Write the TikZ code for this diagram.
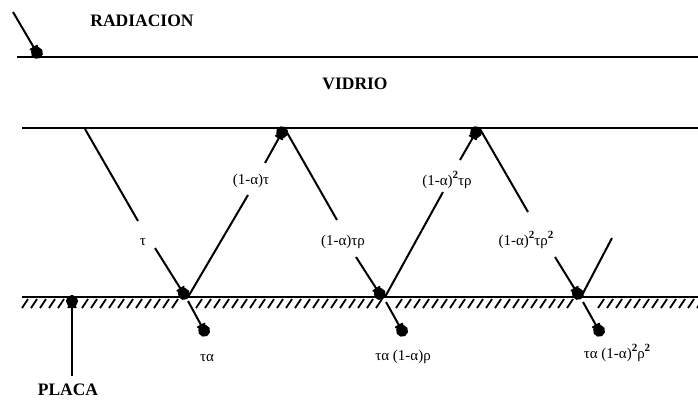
\documentclass[tikz,border=0pt]{standalone}
\usepackage{fontspec}
\setmainfont{Liberation Serif}
\usetikzlibrary{arrows.meta}
\tikzset{
  surf/.style={line width=2.8pt},
  ray/.style={line width=2pt},
  blob/.style={line width=2pt,-{Latex[length=8pt,width=12pt,round,sep=-6pt]Circle[length=12pt,width=12pt]}},
  hatch/.style={line width=1.8pt},
  title/.style={font=\fontsize{17.5}{18}\selectfont\bfseries,inner sep=0pt},
  lab/.style={font=\fontsize{15}{16}\selectfont,inner sep=0pt},
}
\newcommand{\sq}{\raisebox{1.0ex}{\fontsize{11}{11}\selectfont\bfseries 2}}
\begin{document}
\begin{tikzpicture}[x=1pt,y=-1pt]
\useasboundingbox (0,0) rectangle (698,399);
% surfaces
\coordinate (gt0) at (17,57);   \coordinate (gt1) at (698,57);
\coordinate (gb0) at (22,128);  \coordinate (gb1) at (698,128);
\coordinate (pl0) at (22,297);  \coordinate (pl1) at (698,297);
\draw[surf] (gt0) -- (gt1);
\draw[surf] (gb0) -- (gb1);
\draw[surf] (pl0) -- (pl1);
\foreach \a/\b in {22/62, 82/180, 196/376, 396/568, 598/698}{
  \pgfmathtruncatemacro\c{\a+9}
  \foreach \x in {\a,\c,...,\b}{\draw[hatch] (\x,308) -- ++(6,-9);}
}
% titles
\node[title] (rad) at (142,21) {RADIACION};
\node[title] (vid) at (355,84) {VIDRIO};
\node[title] (pla) at (68,390) {PLACA};
% radiation arrow
\coordinate (r0) at (13,12); \coordinate (r1) at (40,58);
\draw[blob] (r0) -- (r1);
% plate arrow
\coordinate (p0) at (72,376); \coordinate (p1) at (72,295);
\draw[blob] (p0) -- (p1);
% labels
\node[lab] (l1) at (143,242) {τ};
\node[lab] (l2) at (251,181) {(1-α)τ};
\node[lab] (l3) at (343,242) {(1-α)τρ};
\node[lab] (l4) at (447,180) {(1-α)\sq τρ};
\node[lab] (l5) at (526,240) {(1-α)\sq τρ\sq};
\node[lab] (a1) at (207,358) {τα};
\node[lab] (a2) at (403,357) {τα (1-α)ρ};
\node[lab] (a3) at (617,353) {τα (1-α)\sq ρ\sq};
% ray 1
\coordinate (s1) at (85,129);  \coordinate (s1a) at (138,221);
\coordinate (s1b) at (155,248); \coordinate (s1c) at (187,299);
\draw[ray] (s1) -- (s1a);
\draw[blob] (s1b) -- (s1c);
% ray 2
\coordinate (s2) at (188,297); \coordinate (s2a) at (248,195);
\coordinate (s2b) at (265,163); \coordinate (s2c) at (285,127);
\draw[ray] (s2) -- (s2a);
\draw[blob] (s2b) -- (s2c);
% ray 3
\coordinate (s3) at (285,129); \coordinate (s3a) at (337,220);
\coordinate (s3b) at (356,257); \coordinate (s3c) at (383,299);
\draw[ray] (s3) -- (s3a);
\draw[blob] (s3b) -- (s3c);
% ray 4
\coordinate (s4) at (385,297); \coordinate (s4a) at (443,192);
\coordinate (s4b) at (460,160); \coordinate (s4c) at (479,127);
\draw[ray] (s4) -- (s4a);
\draw[blob] (s4b) -- (s4c);
% ray 5
\coordinate (s5) at (480,129); \coordinate (s5a) at (528,212);
\coordinate (s5b) at (555,257); \coordinate (s5c) at (581,299);
\draw[ray] (s5) -- (s5a);
\draw[blob] (s5b) -- (s5c);
% ray 6
\coordinate (s6) at (581,297); \coordinate (s6a) at (612,238);
\draw[ray] (s6) -- (s6a);
% absorbed
\coordinate (b1) at (188,301); \coordinate (b1a) at (207,336);
\coordinate (b2) at (386,302); \coordinate (b2a) at (405,336);
\coordinate (b3) at (583,302); \coordinate (b3a) at (602,336);
\draw[blob] (b1) -- (b1a);
\draw[blob] (b2) -- (b2a);
\draw[blob] (b3) -- (b3a);
\end{tikzpicture}
\end{document}
